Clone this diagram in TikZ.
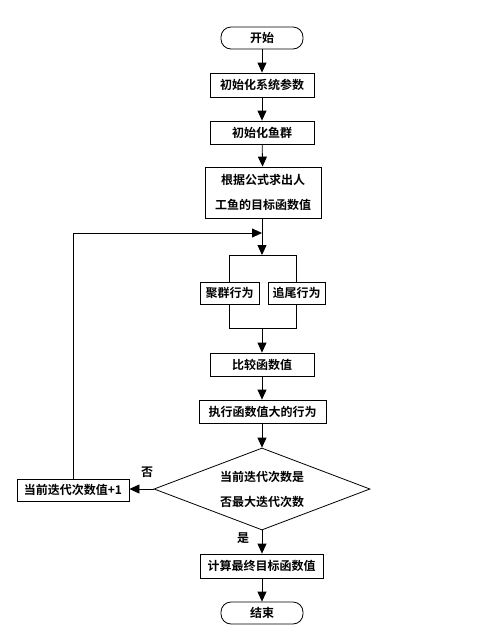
\documentclass[tikz,border=0pt]{standalone}
\usepackage{fontspec}
\setmainfont{Noto Sans CJK SC}[BoldFont={* Bold}]
\usetikzlibrary{shapes.geometric,arrows.meta}
\begin{document}
\begin{tikzpicture}[x=1pt,y=-1pt,
  line width=0.8pt,
  every node/.style={font=\fontsize{12}{25}\selectfont\bfseries},
  proc/.style={draw,rectangle,inner sep=0pt,align=center},
  term/.style={draw,rectangle,rounded corners=10pt,inner sep=0pt,minimum width=82pt,minimum height=22pt},
  dec/.style={draw,diamond,aspect=2.63,inner sep=0pt,minimum width=216pt,minimum height=82pt,align=center},
  arr/.style={-{Triangle[length=10pt,width=9pt]}},
  lbl/.style={inner sep=0pt}]
\useasboundingbox (0,0) rectangle (504,641);
\node[term] (start) at (262,38) {开始};
\node[proc,minimum width=104pt,minimum height=24pt] (b1) at (262,85) {初始化系统参数};
\node[proc,minimum width=104pt,minimum height=23pt] (b2) at (262,132.5) {初始化鱼群};
\node[proc,minimum width=116pt,minimum height=51pt] (b3) at (263,192.5) {根据公式求出人\\工鱼的目标函数值};
\coordinate (j) at (262,233);
\coordinate (st) at (262,255);
\coordinate (stl) at (229.5,255);
\coordinate (str) at (296.5,255);
\node[proc,minimum width=59pt,minimum height=22pt] (b4a) at (229.5,293) {聚群行为};
\node[proc,minimum width=57pt,minimum height=22pt] (b4b) at (296.5,293) {追尾行为};
\coordinate (mg) at (262,328);
\coordinate (mgl) at (229.5,328);
\coordinate (mgr) at (296.5,328);
\node[proc,minimum width=104pt,minimum height=23pt] (b5) at (262,364.5) {比较函数值};
\node[proc,minimum width=127pt,minimum height=23pt] (b6) at (262.5,411.5) {执行函数值大的行为};
\node[dec] (d) at (262,489) {当前迭代次数是\\否最大迭代次数};
\node[proc,minimum width=112pt,minimum height=22pt] (b7) at (73,490) {当前迭代次数值+1};
\node[proc,minimum width=123pt,minimum height=24pt] (b8) at (261.5,566) {计算最终目标函数值};
\node[term] (end) at (262,613) {结束};
\node[lbl] (no) at (147,472) {否};
\node[lbl] (yes) at (243,538) {是};
\draw[arr] (start) -- (b1);
\draw[arr] (b1) -- (b2);
\draw[arr] (b2) -- (b3);
\draw (b3.south -| j) -- (j);
\draw[arr] (j) -- (st);
\draw (stl) -- (str);
\draw (stl) -- (b4a.north);
\draw (str) -- (b4b.north);
\draw (b4a.south) -- (mgl) -- (mgr) -- (b4b.south);
\draw[arr] (mg) -- (b5.north -| mg);
\draw[arr] (b5) -- (b6.north -| b5);
\draw[arr] (b6.south -| d.north) -- (d.north);
\draw[arr] (d.west) -- (b7.east |- d.west);
\draw[arr] (b7.north) -- (b7.north |- j) -- (j);
\draw[arr] (d.south) -- (d.south |- b8.north);
\draw[arr] (b8.south -| end.north) -- (end.north);
\end{tikzpicture}
\end{document}
